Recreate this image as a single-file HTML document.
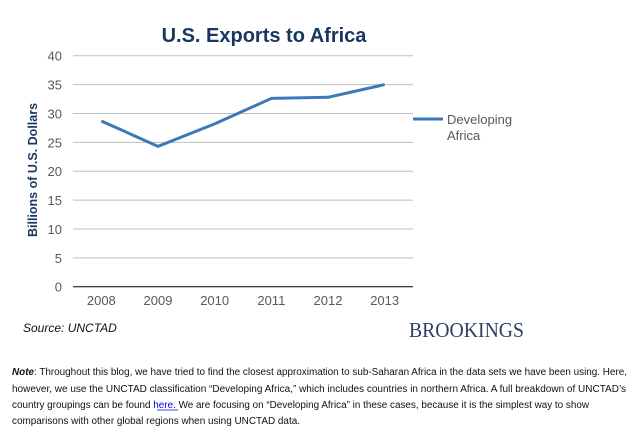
<!DOCTYPE html>
<html><head><meta charset="utf-8"><style>
body{margin:0;width:638px;height:444px;background:#fff;overflow:hidden;font-family:"Liberation Sans",sans-serif;position:relative}
</style></head><body>
<svg width="638" height="444" style="position:absolute;left:0;top:0">
<text x="264" y="42" text-anchor="middle" font-size="20" font-weight="bold" fill="#17375e">U.S. Exports to Africa</text>
<text transform="translate(37,170) rotate(-90)" text-anchor="middle" font-size="12.5" font-weight="bold" fill="#17375e">Billions of U.S. Dollars</text>
<g id="grid"></g><g id="yt"></g><g id="xt"></g>
<path id="line" fill="none" stroke="#3d78b8" stroke-width="3" stroke-linejoin="round"/>
<line x1="413" y1="119" x2="443" y2="119" stroke="#3d78b8" stroke-width="3"/>
<text x="447" y="124" font-size="13" fill="#595959">Developing</text>
<text x="447" y="140" font-size="13" fill="#595959">Africa</text>
<text x="23" y="332" font-size="12" font-style="italic" fill="#111">Source: UNCTAD</text>
<text x="409" y="337" font-family="Liberation Serif,serif" font-size="21" fill="#2e3e66" textLength="115" lengthAdjust="spacingAndGlyphs">BROOKINGS</text>
<g font-size="10" fill="#111">
<text x="12" y="375" textLength="615" lengthAdjust="spacingAndGlyphs"><tspan font-weight="bold" font-style="italic">Note</tspan>: Throughout this blog, we have tried to find the closest approximation to sub-Saharan Africa in the data sets we have been using. Here,</text>
<text x="12" y="392" textLength="614" lengthAdjust="spacingAndGlyphs">however, we use the UNCTAD classification “Developing Africa,” which includes countries in northern Africa. A full breakdown of UNCTAD’s</text>
<text x="12" y="408" textLength="577" lengthAdjust="spacingAndGlyphs">country groupings can be found <tspan fill="#0000ee">here</tspan>. We are focusing on “Developing Africa” in these cases, because it is the simplest way to show</text>
<text x="12" y="424" textLength="288" lengthAdjust="spacingAndGlyphs">comparisons with other global regions when using UNCTAD data.</text>
</g>
<line x1="157" y1="410" x2="178" y2="410" stroke="#0000ee" stroke-width="0.8"/>
</svg>
<script>
const categories=["2008","2009","2010","2011","2012","2013"];
const values=[28.7,24.3,28.2,32.6,32.8,35.0];
const yTicks=[0,5,10,15,20,25,30,35,40];
const ns="http://www.w3.org/2000/svg";
const x0=73,x1=413,yTop=55.7,yBot=286.7,yMax=40;
const xs=i=>x0+(i+0.5)*(x1-x0)/categories.length;
const ys=v=>yBot-(v/yMax)*(yBot-yTop);
function mk(t,a,p){const e=document.createElementNS(ns,t);for(const k in a)e.setAttribute(k,a[k]);p.appendChild(e);return e;}
const g=document.getElementById('grid'),yt=document.getElementById('yt'),xt=document.getElementById('xt');
yTicks.forEach(v=>{
 const l=mk('line',{x1:x0,x2:x1,y1:ys(v),y2:ys(v),stroke:v===0?'#000':'#bfbfbf','stroke-width':1},g);
 
 
 const t=mk('text',{x:62,y:ys(v)+5,'text-anchor':'end','font-size':13,fill:'#595959'},yt);
 t.textContent=v;
 
 
});
categories.forEach((c,i)=>{
 const t=mk('text',{x:xs(i),y:305,'text-anchor':'middle','font-size':13,fill:'#595959'},xt);
 t.textContent=c;
 
 
});
document.getElementById('line').setAttribute('d',values.map((v,i)=>(i?'L':'M')+xs(i)+','+ys(v)).join(''));
</script>
</body></html>
